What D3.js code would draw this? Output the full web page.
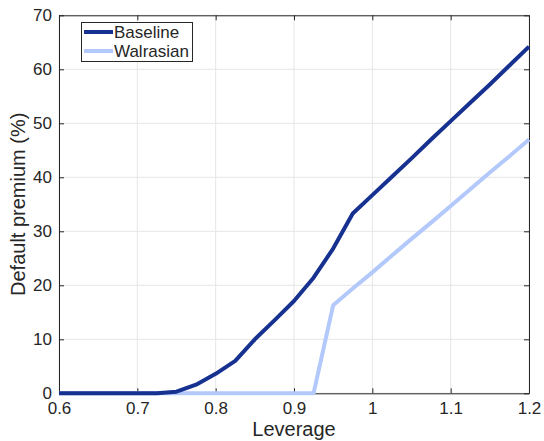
<!DOCTYPE html>
<html><head><meta charset="utf-8">
<script src="https://cdn.jsdelivr.net/npm/d3@7"></script>
<style>body{margin:0;background:#fff;} text{font-family:"Liberation Sans",Arial,sans-serif;fill:#262626;}</style>
</head><body><svg id="c" width="544" height="441"></svg>
<script>
const leverage = [0.6,0.625,0.65,0.675,0.7,0.725,0.75,0.775,0.8,0.825,0.85,0.875,0.9,0.925,0.95,0.975,1.0,1.025,1.05,1.075,1.1,1.125,1.15,1.175,1.2];
const baseline = [0,0,0,0,0,0,0.3,1.6,3.6,6.0,10.0,13.5,17.1,21.4,26.8,33.3,36.7,40.1,43.5,47.0,50.4,53.8,57.2,60.7,64.2];
const walrasian = [0,0,0,0,0,0,0,0,0,0,0,0,0,0,16.3,19.4,22.4,25.5,28.6,31.6,34.7,37.8,40.9,43.9,47.0];
const xTicks = [0.6,0.7,0.8,0.9,1,1.1,1.2];
const yTicks = [0,10,20,30,40,50,60,70];
const seriesNames = ["Baseline","Walrasian"];
const colors = ["#16318f","#b3c9fb"];

const svg = d3.select("#c");
const L=59,R=529,T=15.3,B=393.3;
const x = d3.scaleLinear().domain([0.6,1.2]).range([L,R]);
const y = d3.scaleLinear().domain([0,70]).range([B,T]);

// grid
svg.append("g").selectAll("line").data(xTicks).join("line")
 .attr("x1",d=>x(d)).attr("x2",d=>x(d)).attr("y1",T).attr("y2",B)
 .attr("stroke","#e6e6e6").attr("stroke-width",1);
svg.append("g").selectAll("line").data(yTicks).join("line")
 .attr("y1",d=>y(d)).attr("y2",d=>y(d)).attr("x1",L).attr("x2",R)
 .attr("stroke","#e6e6e6").attr("stroke-width",1);

// axes with inner ticks
const fmt = d=>String(d);
svg.append("g").attr("transform",`translate(0,${B})`)
 .call(d3.axisBottom(x).tickValues(xTicks).tickFormat(fmt).tickSizeInner(-5).tickSizeOuter(0).tickPadding(9))
 .call(g=>{g.select(".domain").attr("stroke","#262626");g.selectAll("line").attr("stroke","#262626");g.selectAll("text").attr("font-size",17).attr("fill","#262626");});
svg.append("g").attr("transform",`translate(${L},0)`)
 .call(d3.axisLeft(y).tickValues(yTicks).tickFormat(fmt).tickSizeInner(-5).tickSizeOuter(0).tickPadding(7))
 .call(g=>{g.select(".domain").attr("stroke","#262626");g.selectAll("line").attr("stroke","#262626");g.selectAll("text").attr("font-size",17).attr("fill","#262626");});
svg.append("g").attr("transform",`translate(0,${T})`)
 .call(d3.axisTop(x).tickValues(xTicks).tickFormat("").tickSizeInner(-5).tickSizeOuter(0))
 .call(g=>{g.select(".domain").attr("stroke","#262626");g.selectAll("line").attr("stroke","#262626");});
svg.append("g").attr("transform",`translate(${R},0)`)
 .call(d3.axisRight(y).tickValues(yTicks).tickFormat("").tickSizeInner(-5).tickSizeOuter(0))
 .call(g=>{g.select(".domain").attr("stroke","#262626");g.selectAll("line").attr("stroke","#262626");});

// lines
const line = d3.line().x((d,i)=>x(leverage[i])).y(d=>y(d));
[walrasian,baseline].forEach((s,k)=>{
 const idx = k===0?1:0;
 svg.append("path").datum(s).attr("d",line).attr("fill","none")
  .attr("stroke",colors[idx]).attr("stroke-width",4).attr("stroke-linejoin","round");
});

// labels
svg.append("text").attr("x",(L+R)/2).attr("y",436).attr("text-anchor","middle").attr("font-size",20).text("Leverage");
svg.append("text").attr("transform",`translate(25,${(T+B)/2}) rotate(-90)`).attr("text-anchor","middle").attr("font-size",20).text("Default premium (%)");

// legend
const lg = svg.append("g");
lg.append("rect").attr("x",81.5).attr("y",22.5).attr("width",111).attr("height",39).attr("fill","#fff").attr("stroke","#262626").attr("stroke-width",1);
seriesNames.forEach((n,i)=>{
 const yy = 32+i*19;
 lg.append("line").attr("x1",84).attr("x2",113).attr("y1",yy).attr("y2",yy).attr("stroke",colors[i]).attr("stroke-width",4);
 lg.append("text").attr("x",114).attr("y",yy+6).attr("font-size",17).text(n);
});
</script></body></html>
